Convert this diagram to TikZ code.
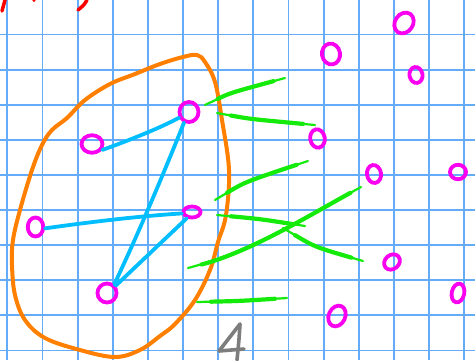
\documentclass[tikz,border=0pt]{standalone}
\usetikzlibrary{shapes.geometric}
\definecolor{gridc}{RGB}{100,172,250}
\definecolor{mag}{RGB}{250,0,240}
\definecolor{bl}{RGB}{0,190,255}
\definecolor{gr}{RGB}{20,235,10}
\definecolor{orc}{RGB}{255,128,0}
\definecolor{redc}{RGB}{250,0,0}
\definecolor{grayc}{RGB}{125,125,125}
\begin{document}
\begin{tikzpicture}[x=1pt,y=-1pt,
  nd/.style={draw=mag, line width=3.8pt, ellipse, inner sep=0pt},
  bedge/.style={draw=bl, line width=3.8pt, line cap=round},
  gthin/.style={draw=gr, line width=2.2pt, line cap=round},
  gthick/.style={draw=gr, line width=4.2pt, line cap=round, shorten <=14pt, shorten >=12pt},
  ostroke/.style={draw=orc, line width=4pt, line cap=round, line join=round},
  gridline/.style={draw=gridc, line width=1.8pt}]
\useasboundingbox (0,0) rectangle (475,360);
\fill[white] (0,0) rectangle (475,360);
% grid
\draw[gridline] (7.3,0) -- (7.3,360);
\draw[gridline] (42.4,0) -- (42.4,360);
\draw[gridline] (77.6,0) -- (77.6,360);
\draw[gridline] (112.7,0) -- (112.7,360);
\draw[gridline] (147.9,0) -- (147.9,360);
\draw[gridline] (183.0,0) -- (183.0,360);
\draw[gridline] (218.1,0) -- (218.1,360);
\draw[gridline] (253.3,0) -- (253.3,360);
\draw[gridline] (288.4,0) -- (288.4,360);
\draw[gridline] (323.6,0) -- (323.6,360);
\draw[gridline] (358.7,0) -- (358.7,360);
\draw[gridline] (393.8,0) -- (393.8,360);
\draw[gridline] (429.0,0) -- (429.0,360);
\draw[gridline] (464.1,0) -- (464.1,360);
\draw[gridline] (0,-0.6) -- (475,-0.6);
\draw[gridline] (0,34.5) -- (475,34.5);
\draw[gridline] (0,69.6) -- (475,69.6);
\draw[gridline] (0,104.7) -- (475,104.7);
\draw[gridline] (0,139.8) -- (475,139.8);
\draw[gridline] (0,174.9) -- (475,174.9);
\draw[gridline] (0,210.0) -- (475,210.0);
\draw[gridline] (0,245.1) -- (475,245.1);
\draw[gridline] (0,280.2) -- (475,280.2);
\draw[gridline] (0,315.3) -- (475,315.3);
\draw[gridline] (0,350.4) -- (475,350.4);
% red marks
\draw[redc, line width=3.5pt, line cap=round] (5,0) .. controls (3,5) .. (2,11);
\fill[redc] (34,0.5) circle (1.6);
\draw[redc, line width=3.5pt, line cap=round] (87,0) .. controls (84,5) .. (78,10);
% orange loop
\draw[ostroke] plot[smooth cycle, tension=0.6] coordinates {
 (160,64) (183,57) (197,55) (205,62) (215,82) (222,120) (229,170) (226,215)
 (218,242) (210,270) (195,300) (175,324) (160,336) (140,350) (115,357)
 (80,350) (45,338) (25,320) (15,295) (12,265) (13,240) (20,210) (32,170)
 (42,145) (52,130) (67,118) (85,100) (110,84) (135,74)};
% nodes
\node[nd, minimum width=22pt, minimum height=18pt, rotate=55] (n1) at (404,23) {};
\node[nd, minimum width=18pt, minimum height=21pt, rotate=10] (n2) at (331,54) {};
\node[nd, minimum width=13pt, minimum height=16pt, rotate=10] (n3) at (416,75) {};
\node[nd, minimum width=19pt, minimum height=20pt] (n4) at (189,112) {};
\node[nd, minimum width=14.5pt, minimum height=18.5pt, rotate=10] (n5) at (317.5,138.5) {};
\node[nd, minimum width=21pt, minimum height=17.5pt] (n6) at (92,144) {};
\node[nd, minimum width=14pt, minimum height=18pt, rotate=8] (n7) at (374,174) {};
\node[nd, minimum width=16pt, minimum height=14.5pt] (n8) at (458,172) {};
\node[nd, minimum width=17pt, minimum height=11pt] (n9) at (192,212) {};
\node[nd, minimum width=15.5pt, minimum height=19pt] (n10) at (35.5,227) {};
\node[nd, minimum width=17pt, minimum height=14pt, rotate=40] (n11) at (392,262) {};
\node[nd, minimum width=19pt, minimum height=19pt] (n12) at (107,293) {};
\node[nd, minimum width=12.5pt, minimum height=19pt, rotate=-12] (n13) at (458,293) {};
\node[nd, minimum width=16.5pt, minimum height=21.5pt, rotate=-25] (n14) at (337,316) {};
% blue edges
\draw[bedge] (n6.-30) .. controls (130,140) and (160,128) .. (n4.210);
\draw[bedge] (n10.-8) .. controls (90,222) and (140,216) .. (n9.188);
\draw[bedge] (n4.245) .. controls (165,170) and (140,230) .. (n12.50);
\draw[bedge] (n9.230) -- (n12.40);
% green strokes
\coordinate (g1a) at (205,105); \coordinate (g1b) at (285,78);
\coordinate (g2a) at (217,113); \coordinate (g2b) at (315,125);
\coordinate (g3a) at (215,200); \coordinate (g3b) at (308,161);
\coordinate (g4a) at (217,215); \coordinate (g4b) at (305,226);
\coordinate (g4c) at (283,228); \coordinate (g4d) at (363,261);
\coordinate (g5a) at (188,268); \coordinate (g5b) at (361,187);
\coordinate (g6a) at (197,302); \coordinate (g6b) at (287,298);
\foreach \st in {gthin,gthick}{
  \draw[\st] (g1a) .. controls (230,93) .. (g1b);
  \draw[\st] (g2a) .. controls (250,119) .. (g2b);
  \draw[\st] (g3a) .. controls (245,182) .. (g3b);
  \draw[\st] (g4a) .. controls (260,219) .. (g4b);
  \draw[\st] (g4c) .. controls (315,247) .. (g4d);
  \draw[\st] (g5a) .. controls (250,252) and (310,215) .. (g5b);
  \draw[\st] (g6a) .. controls (240,301) .. (g6b);
}
% gray 4
\draw[grayc, line width=3.6pt, line cap=round, line join=round]
  (240,324) -- (219,351) -- (244,349);
\draw[grayc, line width=3.6pt, line cap=round]
  (240,324) .. controls (239,340) .. (237,360);
\end{tikzpicture}
\end{document}
